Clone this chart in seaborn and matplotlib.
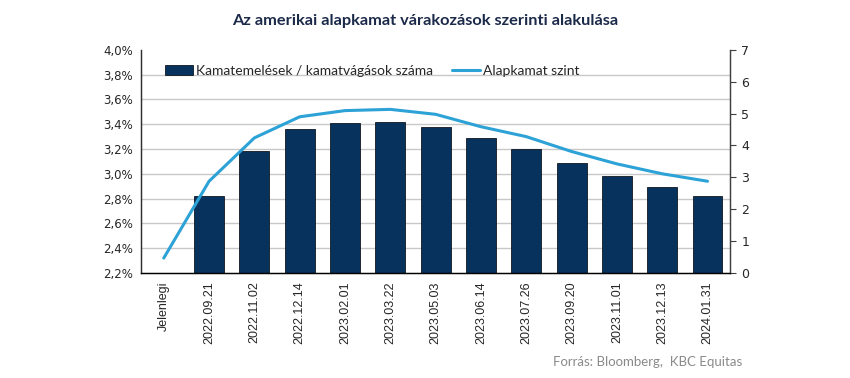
import numpy as np
import pandas as pd
import matplotlib
matplotlib.use('Agg')
import matplotlib.pyplot as plt
import seaborn as sns

# Adatok
dates = ['Jelenlegi', '2022.09.21', '2022.11.02', '2022.12.14', '2023.02.01', '2023.03.22',
         '2023.05.03', '2023.06.14', '2023.07.26', '2023.09.20', '2023.11.01', '2023.12.13',
         '2024.01.31']
hikes = [np.nan, 2.42, 3.83, 4.52, 4.70, 4.74, 4.58, 4.24, 3.89, 3.45, 3.04, 2.70, 2.42]
rate = [2.32, 2.94, 3.29, 3.46, 3.51, 3.52, 3.48, 3.38, 3.30, 3.18, 3.08, 3.00, 2.94]
pct_ticks = [2.2, 2.4, 2.6, 2.8, 3.0, 3.2, 3.4, 3.6, 3.8, 4.0]
count_ticks = [0, 1, 2, 3, 4, 5, 6, 7]

df = pd.DataFrame({'date': dates, 'hikes': hikes, 'rate': rate})

navy = '#08325e'
blue = '#2ca2d6'
title_col = '#1c2a4a'

sns.set_style('white')
fig = plt.figure(figsize=(8.5, 3.78), dpi=100)
ax_bar = fig.add_axes([0.166, 0.278, 0.693, 0.590])
ax_line = ax_bar.twinx()

# oszlopok (jobb tengely)
sns.barplot(data=df, x='date', y='hikes', order=dates, color=navy, width=0.66,
            saturation=1, ax=ax_bar, label='Kamatemelések / kamatvágások száma',
            edgecolor='#101820', linewidth=0.6)
ax_bar.set_ylim(0, 7)
ax_bar.set_yticks(count_ticks)
ax_bar.yaxis.tick_right()
ax_bar.yaxis.set_label_position('right')
# rácsvonalak a bal tengely szerint
ax_bar.set_yticks([(p - 2.2) / 1.8 * 7 for p in pct_ticks], minor=True)
ax_bar.grid(axis='y', which='minor', color='#c8c8c8', linewidth=1)
ax_bar.grid(axis='y', which='major', visible=False)
ax_bar.tick_params(axis='y', which='minor', length=0)
ax_bar.tick_params(axis='y', which='major', length=4, width=0.8, color='#404040',
                   labelsize=9, pad=4, direction='out', right=True, left=False)
ax_bar.set_axisbelow(True)
ax_bar.set_xlabel('')
ax_bar.set_ylabel('')

# vonal (bal tengely)
sns.lineplot(x=np.arange(len(dates)), y=rate, color=blue, linewidth=2.2, ax=ax_line,
             label='Alapkamat szint')
ax_line.set_ylim(2.2, 4.0)
ax_line.set_yticks(pct_ticks)
ax_line.set_yticklabels([f'{p:.1f}%'.replace('.', ',') for p in pct_ticks])
ax_line.yaxis.tick_left()
ax_line.tick_params(axis='y', length=0, labelsize=8.5, pad=6, left=False, right=False)
ax_line.set_zorder(ax_bar.get_zorder() + 1)
ax_line.patch.set_visible(False)
ax_line.set_xlim(-0.5, len(dates) - 0.5)

ax_bar.set_xticks(np.arange(len(dates)))
ax_bar.set_xticklabels(dates, rotation=90, fontsize=9, family='Liberation Sans')
ax_bar.tick_params(axis='x', length=0, pad=6)

for a in (ax_bar, ax_line):
    a.spines['top'].set_visible(False)
    a.spines['left'].set_color('#303030')
    a.spines['right'].set_color('#404040')
    a.spines['bottom'].set_color('#000000')
    for s in a.spines.values():
        s.set_linewidth(0.9)

# jelmagyarázat
h1, l1 = ax_bar.get_legend_handles_labels()
h2, l2 = ax_line.get_legend_handles_labels()
if ax_bar.get_legend():
    ax_bar.get_legend().remove()
ax_line.legend(h1 + h2, l1 + l2, loc='upper left', bbox_to_anchor=(0.02, 0.99), ncol=2,
               frameon=False, handlelength=2.0, handletextpad=0.2,
               columnspacing=1.4, prop={'family': 'Lato', 'size': 10})

fig.text(0.5, 0.945, 'Az amerikai alapkamat várakozások szerinti alakulása',
         ha='center', va='center', fontsize=11.8, fontweight='bold', color=title_col,
         family='Lato')
fig.text(0.873, 0.042, 'Forrás: Bloomberg,  KBC Equitas', ha='right', va='center',
         fontsize=9.5, color='#8a8a8a', family='Lato')

fig.savefig('out.png', dpi=100)
